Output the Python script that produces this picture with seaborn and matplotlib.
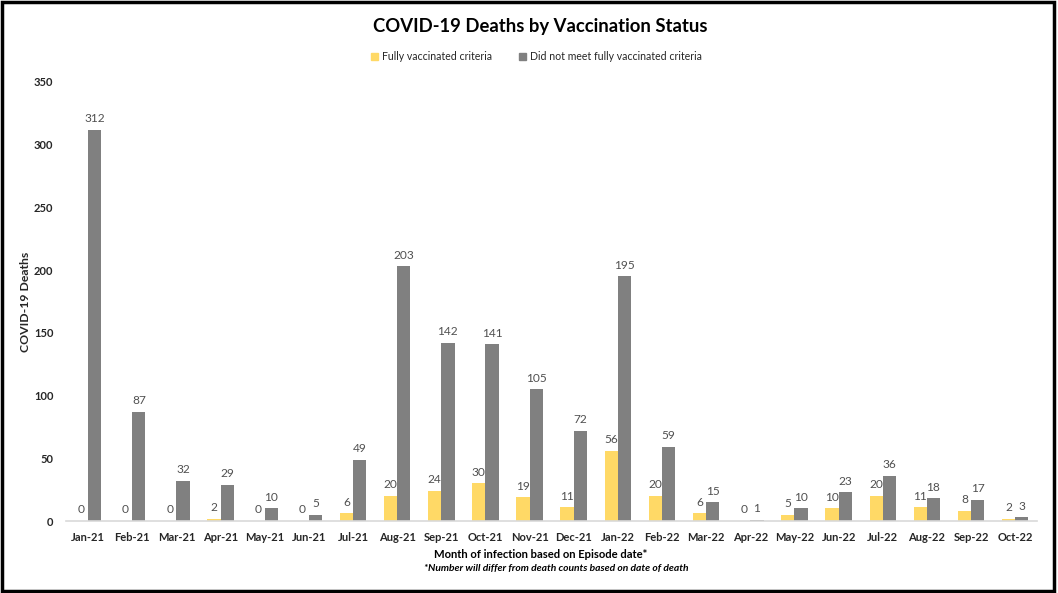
import matplotlib
matplotlib.use("Agg")
import matplotlib.pyplot as plt
import seaborn as sns
import pandas as pd
from matplotlib.patches import Rectangle

months = ["Jan-21", "Feb-21", "Mar-21", "Apr-21", "May-21", "Jun-21", "Jul-21", "Aug-21",
          "Sep-21", "Oct-21", "Nov-21", "Dec-21", "Jan-22", "Feb-22", "Mar-22", "Apr-22",
          "May-22", "Jun-22", "Jul-22", "Aug-22", "Sep-22", "Oct-22"]
fully_vaccinated = [0, 0, 0, 2, 0, 0, 6, 20, 24, 30, 19, 11, 56, 20, 6, 0, 5, 10, 20, 11, 8, 2]
not_fully = [312, 87, 32, 29, 10, 5, 49, 203, 142, 141, 105, 72, 195, 59, 15, 1, 10, 23, 36, 18, 17, 3]
series_names = ["Fully vaccinated criteria", "Did not meet fully vaccinated criteria"]
y_ticks = [0, 50, 100, 150, 200, 250, 300, 350]

df = pd.DataFrame({
    "month": months * 2,
    "deaths": fully_vaccinated + not_fully,
    "status": [series_names[0]] * len(months) + [series_names[1]] * len(months),
})

sns.set_theme(style="white")
plt.rcParams["font.family"] = ["Lato", "DejaVu Sans"]

fig = plt.figure(figsize=(10.58, 5.93), dpi=100)
ax = fig.add_axes([0.0624, 0.1214, 0.918, 0.7406])

palette = {series_names[0]: "#FFD966", series_names[1]: "#808080"}
sns.barplot(data=df, x="month", y="deaths", hue="status", palette=palette,
            width=0.6, gap=0, dodge=True, saturation=1, ax=ax, legend=False,
            errorbar=None, linewidth=0)

for cont in ax.containers:
    ax.bar_label(cont, padding=4, color="#505050", fontsize=8.6)

ax.set_ylim(0, 350)
ax.set_yticks(y_ticks)
ax.set_yticklabels([str(t) for t in y_ticks], fontweight="bold", fontsize=8)
ax.set_xticks(range(len(months)))
ax.set_xticklabels(months, fontweight="bold", fontsize=8)
ax.tick_params(axis="x", length=0, pad=8)
ax.tick_params(axis="y", length=0, pad=9)
ax.set_xlim(-0.5, len(months) - 0.5)

for s in ["top", "right", "left"]:
    ax.spines[s].set_visible(False)
ax.spines["bottom"].set_color("#D9D9D9")
ax.spines["bottom"].set_linewidth(1.2)

ax.set_xlabel("")
ax.set_ylabel("COVID-19 Deaths", fontweight="bold", fontsize=8.8)
ax.yaxis.set_label_coords(-0.036, 0.5)

fig.text(0.511, 0.955, "COVID-19 Deaths by Vaccination Status", ha="center", va="center",
         fontsize=13.3, fontweight="bold", color="#000000")
fig.text(0.511, 0.065, "Month of infection based on Episode date*", ha="center", va="center",
         fontsize=8.1, fontweight="bold", color="#000000")
fig.text(0.526, 0.042, "*Number will differ from death counts based on date of death", ha="center",
         va="center", fontsize=7.4, fontweight="bold", style="italic", color="#000000")

handles = [Rectangle((0, 0), 1, 1, color=palette[n]) for n in series_names]
fig.legend(handles, series_names, loc="center", bbox_to_anchor=(0.507, 0.904), ncol=2,
           frameon=False, fontsize=7.6, handlelength=0.6, handleheight=0.6,
           handletextpad=0.4, columnspacing=2.6)

fig.patches.append(Rectangle((0.002, 0.004), 0.994, 0.992, transform=fig.transFigure,
                             fill=False, edgecolor="black", linewidth=2.5))

fig.savefig("out.png", dpi=100)
